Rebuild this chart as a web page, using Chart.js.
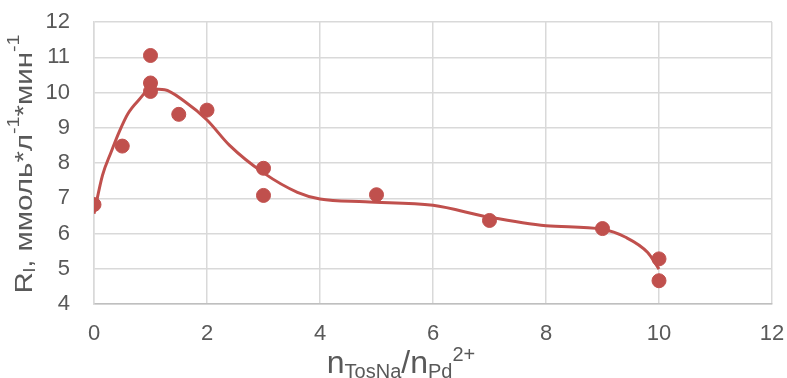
<!DOCTYPE html>
<html>
<head>
<meta charset="utf-8">
<script src="https://cdn.jsdelivr.net/npm/chart.js@4"></script>
<style>
  html, body { margin: 0; padding: 0; background: #fff; }
  #wrap { width: 787px; height: 378px; }
</style>
</head>
<body>
<div id="wrap"><canvas id="myChart" width="787" height="378"></canvas></div>
<script>
// measured points
var ptX = [0, 0.5, 1, 1, 1, 1.5, 2, 3, 3, 5, 7, 9, 10, 10];
var ptY = [6.82, 8.48, 11.05, 10.27, 10.03, 9.38, 9.5, 7.85, 7.08, 7.1, 6.37, 6.14, 5.28, 4.66];

// smoothed curve
var curveX = [0, 0.15, 0.3, 0.45, 0.6, 0.8, 1.0, 1.25, 1.6, 2.0, 2.4, 3.0, 3.6, 4.0, 4.8, 6.0, 7.0, 8.0, 9.0, 9.4, 9.8, 10];
var curveY = [6.56, 7.65, 8.3, 8.9, 9.4, 9.8, 10.1, 10.08, 9.75, 9.22, 8.5, 7.72, 7.17, 6.98, 6.9, 6.8, 6.46, 6.22, 6.12, 5.9, 5.46, 4.99];

// text parts: 0 = normal, 1 = subscript, 2 = superscript
var xTitle = [['n', 0], ['TosNa', 1], ['/n', 0], ['Pd', 1], ['2+', 2]];
var yTitle = [['R', 0], ['l', 1], [', ммоль*л', 0], ['-1', 2], ['*мин', 0], ['-1', 2]];

var red = '#c0504d';
var grey = '#595959';
var FONT = '"Liberation Sans", Arial, sans-serif';

function toXY(xs, ys) {
    return xs.map(function(x, i) { return { x: x, y: ys[i] }; });
}

// text with sub/super parts, centred along its length at (cx, cy), cy = baseline
function drawRich(ctx, parts, cx, cy, rot, o) {
    ctx.save();
    ctx.translate(cx, cy);
    ctx.rotate(rot);
    ctx.fillStyle = grey;
    ctx.textBaseline = 'alphabetic';
    var w = 0;
    parts.forEach(function(p) {
        ctx.font = (p[1] ? o.small : o.big) + 'px ' + FONT;
        w += ctx.measureText(p[0]).width;
    });
    var k = o.len ? o.len / w : 1;
    ctx.scale(k, 1);
    var x = -w / 2;
    parts.forEach(function(p) {
        ctx.font = (p[1] ? o.small : o.big) + 'px ' + FONT;
        var dy = p[1] == 1 ? o.sub : (p[1] == 2 ? o.sup : 0);
        ctx.fillText(p[0], x, dy);
        x += ctx.measureText(p[0]).width;
    });
    ctx.restore();
}

var titles = {
    id: 'titles',
    afterDraw: function(chart) {
        var ctx = chart.ctx;
        drawRich(ctx, xTitle, 401, 373, 0, { big: 32, small: 20, sub: 4.5, sup: -12.5 });
        drawRich(ctx, yTitle, 32, 164, -Math.PI / 2, { big: 24, small: 16, sub: 2.6, sup: -12.7, len: 259 });
    }
};

var ctx = document.getElementById('myChart').getContext('2d');
var myChart = new Chart(ctx, {
    type: 'scatter',
    data: {
        datasets: [{
            data: toXY(ptX, ptY),
            backgroundColor: red,
            borderColor: red,
            pointRadius: 7,
            pointHoverRadius: 7,
            showLine: false,
            order: 1
        }, {
            data: toXY(curveX, curveY),
            borderColor: red,
            borderWidth: 3,
            pointRadius: 0,
            showLine: true,
            fill: false,
            cubicInterpolationMode: 'monotone',
            order: 2
        }]
    },
    options: {
        responsive: false,
        animation: false,
        layout: { padding: { top: 22, right: 15, left: 0, bottom: 0 } },
        scales: {
            x: {
                type: 'linear',
                min: 0,
                max: 12,
                afterFit: function(s) { s.height = 74; },
                ticks: { stepSize: 2, padding: 0, color: grey, font: { family: FONT, size: 22 } },
                grid: { color: '#d9d9d9', lineWidth: 1.5, drawTicks: true, tickLength: 17, tickColor: 'rgba(0,0,0,0)' },
                border: { color: '#bfbfbf', width: 1.5 }
            },
            y: {
                min: 4,
                max: 12,
                afterFit: function(s) { s.width = 94; },
                ticks: { stepSize: 1, padding: 0, color: grey, font: { family: FONT, size: 22 } },
                grid: { color: '#d9d9d9', lineWidth: 1.5, drawTicks: true, tickLength: 24, tickColor: 'rgba(0,0,0,0)' },
                border: { color: '#d9d9d9', width: 1.5 }
            }
        },
        plugins: {
            legend: { display: false },
            tooltip: { enabled: false }
        }
    },
    plugins: [titles]
});
</script>
</body>
</html>
